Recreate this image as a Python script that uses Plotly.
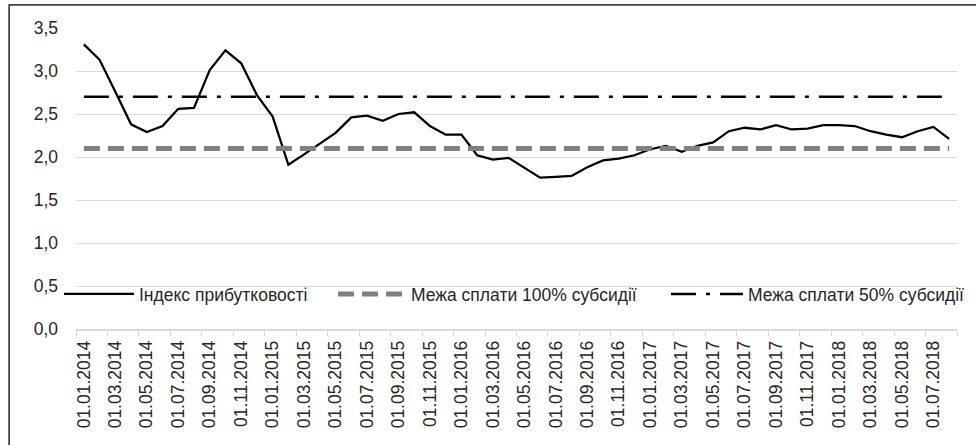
import plotly.graph_objects as go

months = []
for y in range(2014, 2019):
    for m in range(1, 13):
        if y == 2018 and m > 8:
            break
        months.append(f"01.{m:02d}.{y}")

profit_index = [
    3.31, 3.13, 2.76, 2.38, 2.29, 2.36, 2.56, 2.57, 3.01, 3.24, 3.09, 2.72,
    2.47, 1.91, 2.03, 2.15, 2.28, 2.46, 2.48, 2.42, 2.50, 2.52, 2.36, 2.26,
    2.26, 2.02, 1.97, 1.99, 1.88, 1.76, 1.77, 1.78, 1.88, 1.96, 1.98, 2.02,
    2.09, 2.13, 2.06, 2.13, 2.17, 2.30, 2.34, 2.32, 2.37, 2.32, 2.33, 2.37,
    2.37, 2.36, 2.30, 2.26, 2.23, 2.30, 2.35, 2.21,
]
limit_100 = 2.1
limit_50 = 2.7

names = ["Індекс прибутковості", "Межа сплати 100% субсидії", "Межа сплати 50% субсидії"]

FONT = "Liberation Sans, Arial, sans-serif"
FS = 17.5
TXT = "#262626"
GRID = "#d9d9d9"

fig = go.Figure()
fig.add_trace(go.Scatter(x=months, y=profit_index, mode="lines", name=names[0], showlegend=True,
                         line=dict(color="black", width=2.25), legend="legend"))
fig.add_trace(go.Scatter(x=months, y=[limit_100] * len(months), mode="lines", name=names[1], showlegend=True,
                         line=dict(color="#808080", width=5, dash="16px,8px"), legend="legend2"))
fig.add_trace(go.Scatter(x=months, y=[limit_50] * len(months), mode="lines", name=names[2], showlegend=True,
                         line=dict(color="black", width=2.5, dash="25px,10px,4px,10px"), legend="legend3"))

W, H = 976, 445
L, R, T, B = 76, 19, 28, 116
pw, ph = W - L - R, H - T - B

def px(xp):
    return (xp - L) / pw

def py(yp):
    return (H - B - yp) / ph

def leg(x0, iw):
    return dict(x=px(x0), y=py(294), orientation="h", bgcolor="rgba(0,0,0,0)",
                font=dict(family=FONT, size=FS, color=TXT),
                itemwidth=iw, yanchor="middle", xanchor="left", borderwidth=0)

fig.update_layout(
    width=W, height=H,
    margin=dict(l=L, r=R, t=T, b=B, autoexpand=False),
    paper_bgcolor="white", plot_bgcolor="white",
    separators=", ",
    showlegend=True,
    font=dict(family=FONT, size=FS, color=TXT),
    legend=leg(59, 70),
    legend2=leg(333, 68),
    legend3=leg(666, 72),
    xaxis=dict(type="category", categoryorder="array", categoryarray=months,
               range=[-0.5, len(months) - 0.5], automargin=False,
               tickmode="linear", tick0=0, dtick=2, tickson="boundaries",
               ticks="outside", ticklen=5, tickcolor=GRID, tickwidth=1,
               tickangle=-90, showgrid=False, showline=True, linecolor=GRID, linewidth=1.5,
               tickfont=dict(family=FONT, size=FS, color=TXT), ticklabelstandoff=3),
    yaxis=dict(range=[0, 3.5], dtick=0.5, tick0=0, tickformat=".1f", automargin=False,
               showgrid=True, gridcolor=GRID, gridwidth=1.3, zeroline=False,
               showline=False, ticks="", ticklabelstandoff=17,
               tickfont=dict(family=FONT, size=FS, color=TXT)),
    shapes=[
        dict(type="line", xref="paper", yref="paper", x0=px(9), x1=px(W + 20), y0=py(5), y1=py(5),
             line=dict(color="#404040", width=1.5), layer="above"),
        dict(type="line", xref="paper", yref="paper", x0=px(9), x1=px(9), y0=py(4.3), y1=py(H + 20),
             line=dict(color="#404040", width=1.5), layer="above"),
    ],
)

post = (
    "document.body.style.margin='0';document.body.style.padding='0';"
    "var b=document.createElement('div');"
    "b.style.cssText='position:absolute;left:9px;top:4px;width:980px;height:460px;"
    "border-top:1.5px solid #404040;border-left:1.5px solid #404040;pointer-events:none;z-index:10;';"
    "document.body.appendChild(b);"
)

fig.write_html("out.html", config={"displayModeBar": False}, post_script=post)
